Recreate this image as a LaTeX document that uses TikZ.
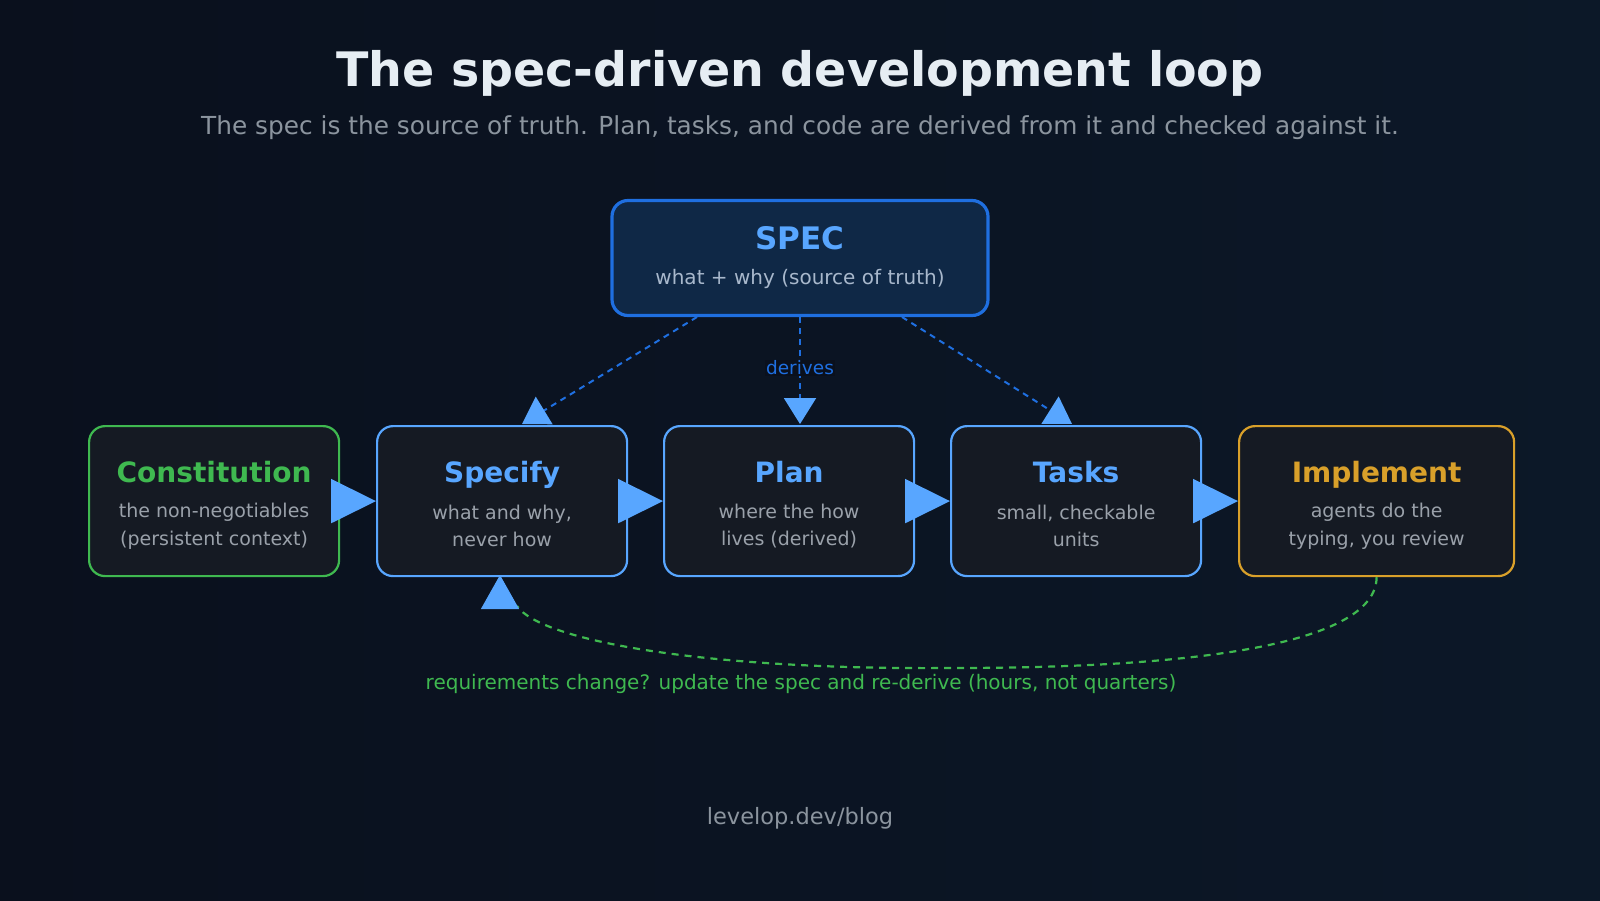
\documentclass[tikz,border=0pt]{standalone}
\usepackage{fontspec}
\setmainfont{DejaVu Sans}
\usetikzlibrary{arrows.meta}
\definecolor{bgA}{HTML}{0A101D}
\definecolor{bgB}{HTML}{0C1828}
\definecolor{boxfill}{HTML}{151A23}
\definecolor{specfill}{HTML}{0F2846}
\definecolor{specline}{HTML}{1F6FE0}
\definecolor{blue}{HTML}{58A6FF}
\definecolor{green}{HTML}{3FB950}
\definecolor{amber}{HTML}{D9A02A}
\definecolor{titlec}{HTML}{E6EDF3}
\definecolor{graytxt}{HTML}{8B949E}
\definecolor{subtxt}{HTML}{9AA1AA}
\definecolor{spectxt}{HTML}{A8B8CC}
\begin{document}
\begin{tikzpicture}[x=1pt,y=-1pt,
  stagebox/.style={draw,line width=2.2pt,rounded corners=16pt,fill=boxfill,minimum width=250pt,minimum height=150pt,anchor=north west},
  ttl/.style={font=\bfseries\fontsize{28}{32}\selectfont,anchor=base},
  sub/.style={font=\fontsize{19}{27.5}\selectfont,text=subtxt,align=center},
  flow/.style={draw=blue,line width=2pt,-{Triangle[length=45pt,width=44pt]},fill=blue},
  derive/.style={draw=specline,line width=2pt,dash pattern=on 6pt off 5pt,-{Triangle[length=26pt,width=32pt,color=blue,fill=blue]}},
]
\shade[left color=bgA,right color=bgB] (0,0) rectangle (1600,900);
\useasboundingbox (0,0) rectangle (1600,900);

\node[text=titlec,font=\bfseries\fontsize{47.5}{55}\selectfont] (title) at (800,73) {The spec-driven development loop};
\node[text=graytxt,font=\fontsize{24.8}{28}\selectfont] (subtitle) at (800,128) {The spec is the source of truth. Plan, tasks, and code are derived from it and checked against it.};

\node[draw=specline,line width=3.2pt,rounded corners=16pt,fill=specfill,minimum width=376pt,minimum height=115pt] (spec) at (800,258) {};
\node[text=blue,font=\bfseries\fontsize{31}{35}\selectfont] (specT) at (800,238) {SPEC};
\node[text=spectxt,font=\fontsize{20}{24}\selectfont] (specS) at (800,279) {what + why (source of truth)};

\node[stagebox,draw=green,minimum width=250pt] (con) at (88,425) {};
\node[stagebox,draw=blue] (spc) at (376,425) {};
\node[stagebox,draw=blue] (pln) at (663,425) {};
\node[stagebox,draw=blue] (tsk) at (950,425) {};
\node[stagebox,draw=amber,minimum width=275pt] (imp) at (1238,425) {};

\node[ttl,text=green] at ([yshift=-57pt]con.north) {Constitution};
\node[sub] at ([yshift=-101pt]con.north) {the non-negotiables\\(persistent context)};
\node[ttl,text=blue] at ([yshift=-57pt]spc.north) {Specify};
\node[sub] at ([yshift=-101pt]spc.north) {what and why,\\never how};
\node[ttl,text=blue] at ([yshift=-57pt]pln.north) {Plan};
\node[sub] at ([yshift=-101pt]pln.north) {where the how\\lives (derived)};
\node[ttl,text=blue] at ([yshift=-57pt]tsk.north) {Tasks};
\node[sub] at ([yshift=-101pt]tsk.north) {small, checkable\\units};
\node[ttl,text=amber] at ([yshift=-57pt]imp.north) {Implement};
\node[sub] at ([yshift=-101pt]imp.north) {agents do the\\typing, you review};

\draw[flow] (con.east) -- (spc.west);
\draw[flow] (spc.east) -- (pln.west);
\draw[flow] (pln.east) -- (tsk.west);
\draw[flow] (tsk.east) -- (imp.west);

\coordinate (s1) at (697,317);
\coordinate (s3) at (902,317);
\coordinate (t1) at (522,424);
\coordinate (t3) at (1072,424);
\draw[derive] (s1) -- (t1);
\draw[derive] (spec.south) -- (800,424);
\draw[derive] (s3) -- (t3);
\node[fill=bgA,inner sep=1pt,text=specline,font=\fontsize{18.5}{22}\selectfont] (der) at (800,368) {derives};

\coordinate (fbend) at (517,606);
\draw[green,line width=2.2pt,dash pattern=on 7pt off 6pt] (imp.south) .. controls (1376,660) and (1100,668) .. (950,668)
  .. controls (700,670) and (540,640) .. (fbend);
\draw[draw=blue,fill=blue,line width=1pt,-{Triangle[length=34pt,width=38pt]}] (500,606) -- (500,575);

\node[text=green,font=\fontsize{20}{24}\selectfont] (fbl) at (801,684) {requirements change? update the spec and re-derive (hours, not quarters)};
\node[text=graytxt,font=\fontsize{22.5}{26}\selectfont] (foot) at (800,818) {levelop.dev/blog};
\end{tikzpicture}
\end{document}
